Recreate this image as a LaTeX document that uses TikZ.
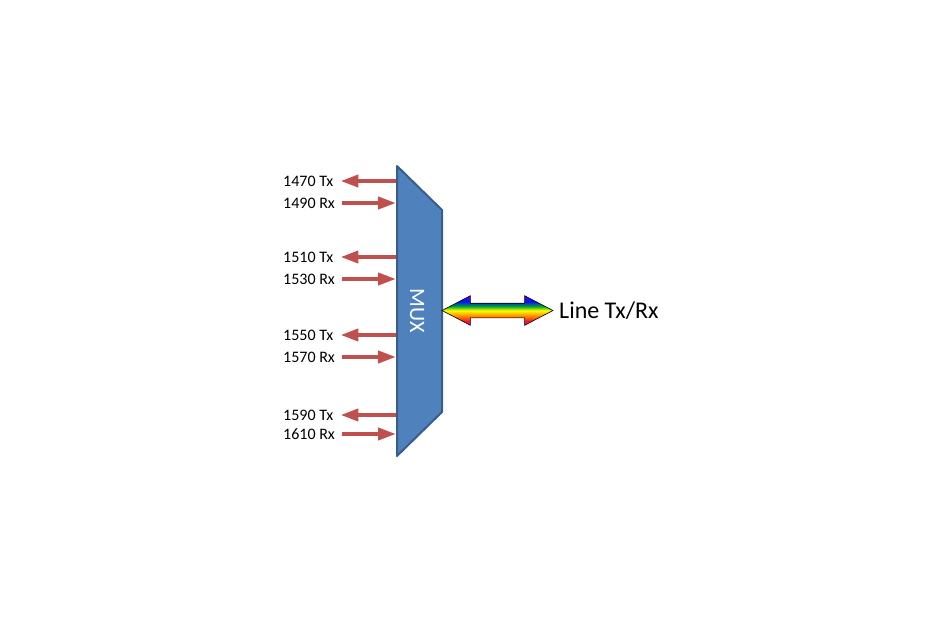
\documentclass[tikz,border=0pt]{standalone}
\usepackage{fontspec}
\setmainfont{Carlito}
\usepackage{xcolor}
\usetikzlibrary{shapes.arrows, arrows.meta, positioning}

\definecolor{muxfill}{HTML}{4F81BD}
\definecolor{muxdraw}{HTML}{385D8A}
\definecolor{chanred}{HTML}{C0504D}
\definecolor{rbmag}{RGB}{255,0,170}
\definecolor{rbred}{RGB}{240,20,40}
\definecolor{rborange}{RGB}{255,140,0}
\definecolor{rbyellow}{RGB}{255,255,0}
\definecolor{rbgreen}{RGB}{0,170,40}
\definecolor{rbblue}{RGB}{0,20,255}
\definecolor{rbpurple}{RGB}{90,0,200}
\pgfdeclareverticalshading{rainbowbar}{100bp}{color(0bp)=(rbmag); color(25bp)=(rbmag); color(32bp)=(rbred); color(41bp)=(rborange); color(50bp)=(rbyellow); color(57bp)=(rbgreen); color(65bp)=(rbblue); color(75bp)=(rbpurple); color(100bp)=(rbpurple)}

\begin{document}
\begin{tikzpicture}[x=1pt, y=-1pt,
    muxbody/.style={draw=muxdraw, fill=muxfill, line width=2pt, line join=round},
    muxtext/.style={rotate=-90, text=white, font=\fontsize{22}{26}\selectfont},
    lbl/.style={anchor=west, inner xsep=7pt, inner ysep=1pt, font=\fontsize{16}{19}\selectfont},
    chan/.style={line width=4pt, draw=chanred, -{Triangle[length=18pt,width=12pt]}},
    linearrow/.style={double arrow, double arrow head extend=7.5pt, double arrow tip angle=55, inner xsep=0pt, inner ysep=7pt, minimum height=111pt, draw=black, line width=0.6pt, shade, shading=rainbowbar}]

    \useasboundingbox (0,0) rectangle (945,627);

    % multiplexer body
    \coordinate (mtl) at (397,166);
    \coordinate (mtr) at (442,210);
    \coordinate (mbr) at (442,412);
    \coordinate (mbl) at (397,456);
    \draw [muxbody] (mtl) -- (mtr) -- (mbr) -- (mbl) -- cycle;
    \node (mux) [muxtext] at (417,311) {MUX};

    \node (lineb) [linearrow] at (497.5,310.5) {};
    \node (linelbl) [right=2pt of lineb, font=\fontsize{24}{28}\selectfont] {Line Tx/Rx};

    \coordinate (tx1) at (396,181);
    \coordinate (rx1) at (396,203);
    \coordinate (tx2) at (396,257);
    \coordinate (rx2) at (396,279);
    \coordinate (tx3) at (396,335);
    \coordinate (rx3) at (396,357);
    \coordinate (tx4) at (396,415);
    \coordinate (rx4) at (396,434);

    \node (txl1) [lbl] at (276,181) {1470 Tx};
    \node (rxl1) [lbl] at (276,203) {1490 Rx};
    \node (txl2) [lbl] at (276,257) {1510 Tx};
    \node (rxl2) [lbl] at (276,279) {1530 Rx};
    \node (txl3) [lbl] at (276,335) {1550 Tx};
    \node (rxl3) [lbl] at (276,357) {1570 Rx};
    \node (txl4) [lbl] at (276,415) {1590 Tx};
    \node (rxl4) [lbl] at (276,434) {1610 Rx};

    \draw [chan] (tx1) -- (txl1);
    \draw [chan] (rxl1) -- (rx1);
    \draw [chan] (tx2) -- (txl2);
    \draw [chan] (rxl2) -- (rx2);
    \draw [chan] (tx3) -- (txl3);
    \draw [chan] (rxl3) -- (rx3);
    \draw [chan] (tx4) -- (txl4);
    \draw [chan] (rxl4) -- (rx4);
\end{tikzpicture}
\end{document}
